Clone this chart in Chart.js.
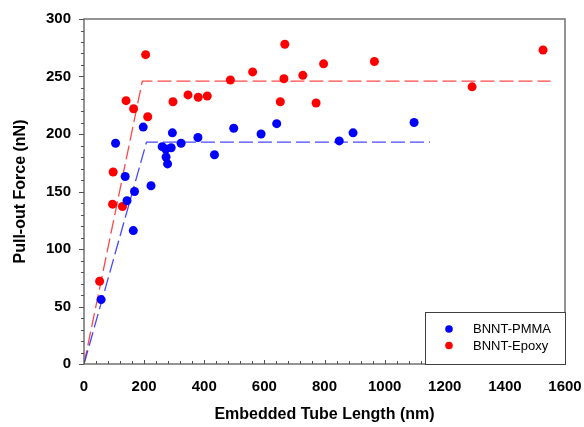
<!DOCTYPE html>
<html>
<head>
<title>Pull-out Force vs Embedded Tube Length</title>
<script src="https://cdn.jsdelivr.net/npm/chart.js@4.4.1/dist/chart.umd.min.js"></script>
<style>
body { margin:0; background:#ffffff; }
#wrap { width:584px; height:427px; }
</style>
</head>
<body>
<div id="wrap"><canvas id="chart1"></canvas></div>
<script>
// BNNT-PMMA measurements (length nm, force nN)
var pmmaX = [57, 105, 137, 143, 168, 164, 197, 223, 260, 272, 273, 278, 290, 294, 323, 379, 434, 498, 589, 641, 849, 895, 1098];
var pmmaY = [56, 192, 163, 142, 150, 116, 206, 155, 189, 187, 180, 174, 188, 201, 192, 197, 182, 205, 200, 209, 194, 201, 210];
// BNNT-Epoxy measurements
var epoxyX = [52, 95, 97, 128, 140, 165, 205, 212, 296, 346, 380, 410, 487, 561, 668, 665, 653, 728, 797, 772, 966, 1291, 1527];
var epoxyY = [72, 139, 167, 137, 229, 222, 269, 215, 228, 234, 232, 233, 247, 254, 278, 248, 228, 251, 261, 227, 263, 241, 273];
// dashed fit lines (bilinear)
var pmmaFitX = [0, 208, 1151];
var pmmaFitY = [0, 193, 193];
var epoxyFitX = [0, 194, 1552];
var epoxyFitY = [0, 246, 246];

var xTicks = [0, 200, 400, 600, 800, 1000, 1200, 1400, 1600];
var yTicks = [0, 50, 100, 150, 200, 250, 300];

function pts(xs, ys) {
  var out = [];
  for (var i = 0; i < xs.length; i++) out.push({x: xs[i], y: ys[i]});
  return out;
}

var FONT = '"Liberation Sans", Arial, sans-serif';
var frameColor = '#707070';

var framePlugin = {
  id: 'frame',
  afterDraw: function(chart) {
    var ctx = chart.ctx;
    var a = chart.chartArea;
    var xs = chart.scales.x, ys = chart.scales.y;
    ctx.save();
    ctx.strokeStyle = frameColor;
    ctx.lineWidth = 1.5;
    ctx.strokeRect(a.left, a.top, a.right - a.left, a.bottom - a.top);
    ctx.lineWidth = 1;
    ctx.strokeStyle = '#505050';
    // x ticks, pointing up into the plot
    for (var v = 0; v <= 1600; v += 40) {
      var px = Math.round(xs.getPixelForValue(v)) + 0.5;
      var len = (v % 200 === 0) ? 4 : 3;
      ctx.beginPath(); ctx.moveTo(px, a.bottom); ctx.lineTo(px, a.bottom - len); ctx.stroke();
    }
    // y ticks, pointing out to the left
    for (var w = 0; w <= 300; w += 10) {
      var py = Math.round(ys.getPixelForValue(w)) + 0.5;
      var l2 = (w % 50 === 0) ? 5 : 3;
      ctx.beginPath(); ctx.moveTo(a.left, py); ctx.lineTo(a.left - l2, py); ctx.stroke();
    }
    // legend box in lower right corner
    var bx = 425, by = 312, bw = a.right - bx, bh = a.bottom - by;
    ctx.fillStyle = '#ffffff';
    ctx.fillRect(bx, by, bw, bh);
    ctx.strokeStyle = '#404040';
    ctx.lineWidth = 1;
    ctx.strokeRect(bx + 0.5, by + 0.5, bw, bh);
    var items = [chart.data.datasets[0], chart.data.datasets[1]];
    ctx.font = '13px ' + FONT;
    ctx.textBaseline = 'middle';
    ctx.textAlign = 'left';
    for (var i = 0; i < items.length; i++) {
      var cy = 329 + i * 16.5;
      ctx.fillStyle = items[i].backgroundColor;
      ctx.beginPath(); ctx.arc(449, cy, 3.8, 0, Math.PI * 2); ctx.fill();
      ctx.fillStyle = '#000000';
      ctx.fillText(items[i].label, 473, cy + 0.5);
    }
    ctx.restore();
  }
};

function plain(v) { return String(v); }

var ctx1 = document.getElementById('chart1').getContext('2d');
var chart1 = new Chart(ctx1, {
  type: 'scatter',
  data: {
    datasets: [
      { label: 'BNNT-PMMA', data: pts(pmmaX, pmmaY), backgroundColor: '#0000ff', borderColor: '#0000ff', pointRadius: 4.5, borderWidth: 0, order: 1 },
      { label: 'BNNT-Epoxy', data: pts(epoxyX, epoxyY), backgroundColor: '#ff0000', borderColor: '#ff0000', pointRadius: 4.5, borderWidth: 0, order: 1 },
      { label: 'PMMA fit', data: pts(pmmaFitX, pmmaFitY), showLine: true, pointRadius: 0, borderColor: 'rgba(40,40,255,0.85)', borderWidth: 1.3, borderDash: [14, 5], order: 2 },
      { label: 'Epoxy fit', data: pts(epoxyFitX, epoxyFitY), showLine: true, pointRadius: 0, borderColor: 'rgba(255,40,40,0.85)', borderWidth: 1.3, borderDash: [14, 5], order: 2 }
    ]
  },
  options: {
    responsive: true,
    maintainAspectRatio: false,
    animation: false,
    layout: { padding: { top: 19, right: 19, left: 0, bottom: 0 } },
    plugins: { legend: { display: false }, tooltip: { enabled: false } },
    scales: {
      x: {
        type: 'linear', min: 0, max: 1600,
        afterBuildTicks: function(s) { s.ticks = xTicks.map(function(v) { return {value: v}; }); },
        afterFit: function(s) { s.height = 63; s.paddingLeft = 0; s.paddingRight = 0; },
        grid: { display: false, drawTicks: false },
        border: { display: false },
        ticks: { color: '#000', padding: 14, maxRotation: 0, callback: plain, font: { family: FONT, size: 15, weight: 'bold' } },
        title: { display: true, text: 'Embedded Tube Length (nm)', color: '#000', padding: { top: 0, bottom: 3 }, font: { family: FONT, size: 16, weight: 'bold' } }
      },
      y: {
        type: 'linear', min: 0, max: 300,
        afterBuildTicks: function(s) { s.ticks = yTicks.map(function(v) { return {value: v}; }); },
        afterFit: function(s) { s.width = 84; s.paddingTop = 0; s.paddingBottom = 0; },
        grid: { display: false, drawTicks: false },
        border: { display: false },
        ticks: { color: '#000', padding: 13, callback: plain, font: { family: FONT, size: 15, weight: 'bold' } },
        title: { display: true, text: 'Pull-out Force (nN)', color: '#000', padding: { top: 11, bottom: 0 }, font: { family: FONT, size: 16, weight: 'bold' } }
      }
    }
  },
  plugins: [framePlugin]
});
</script>
</body>
</html>
